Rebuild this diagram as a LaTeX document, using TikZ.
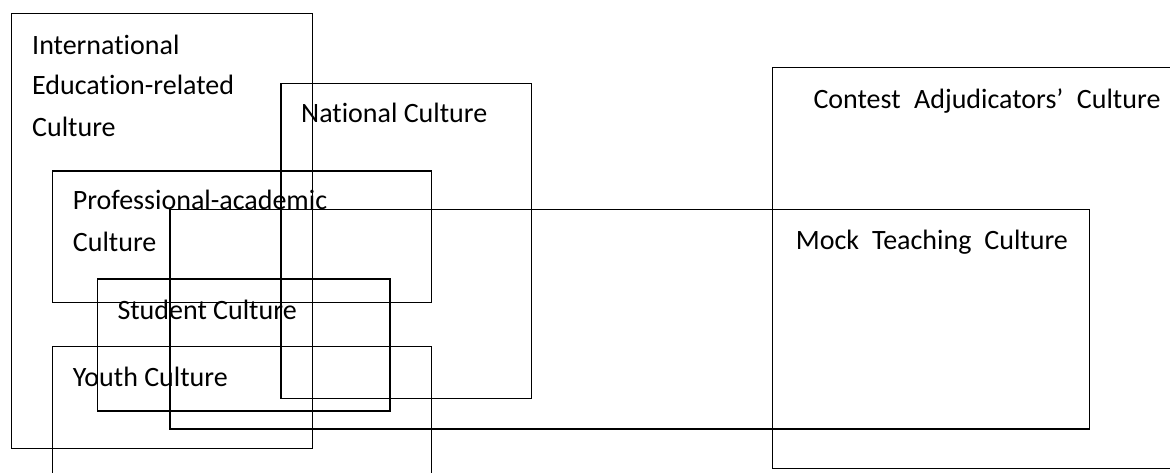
\documentclass[tikz,border=0pt]{standalone}
\usepackage{fontspec}
\setmainfont[RawFeature=-liga]{Carlito}
\begin{document}
\begin{tikzpicture}[x=1pt,y=-1pt,
  frame/.style={draw=black, line width=1.6pt, fill=none, inner sep=0pt, anchor=north west},
  lbl/.style={anchor=base west, inner sep=0pt, font=\fontsize{28}{28}\selectfont}]
\clip (0,0) rectangle (1170,473);
\fill[white] (0,0) rectangle (1170,473);
% culture frames: position, width, height
\node[frame, minimum width=301pt, minimum height=435pt] (intl) at (10.7,12.7) {};
\node[frame, minimum width=250.5pt, minimum height=315pt] (natl) at (280.2,82.7) {};
\node[frame, minimum width=379pt, minimum height=131.7pt] (prof) at (51.7,170) {};
\node[frame, line width=1.4pt, minimum width=919.7pt, minimum height=219.3pt] (mock) at (169.3,209) {};
\node[frame, minimum width=292.3pt, minimum height=131.7pt] (stud) at (96.7,278.3) {};
\node[frame, minimum width=379pt, minimum height=160pt] (youth) at (51.7,345.7) {};
\node[frame, minimum width=410pt, minimum height=401pt] (contest) at (771.7,66.7) {};
% labels
\node[lbl] (tintl1) at (32,55) {International};
\node[lbl] (tintl2) at (32,95) {Education-related};
\node[lbl] (tintl3) at (32,136.7) {Culture};
\node[lbl] (tnatl) at (301,123) {National Culture};
\node[lbl] (tprof1) at (72.7,210) {Professional-academic};
\node[lbl] (tprof2) at (72.7,251.7) {Culture};
\node[lbl] (tstud) at (117.3,319) {Student Culture};
\node[lbl] (tyouth) at (72.7,386.7) {Youth Culture};
\node[lbl] (tcontest) at (813.3,108.3) {\makebox[347pt][s]{Contest Adjudicators’ Culture}};
\node[lbl] (tmock) at (795.7,250) {\makebox[272pt][s]{Mock Teaching Culture}};
\end{tikzpicture}
\end{document}
